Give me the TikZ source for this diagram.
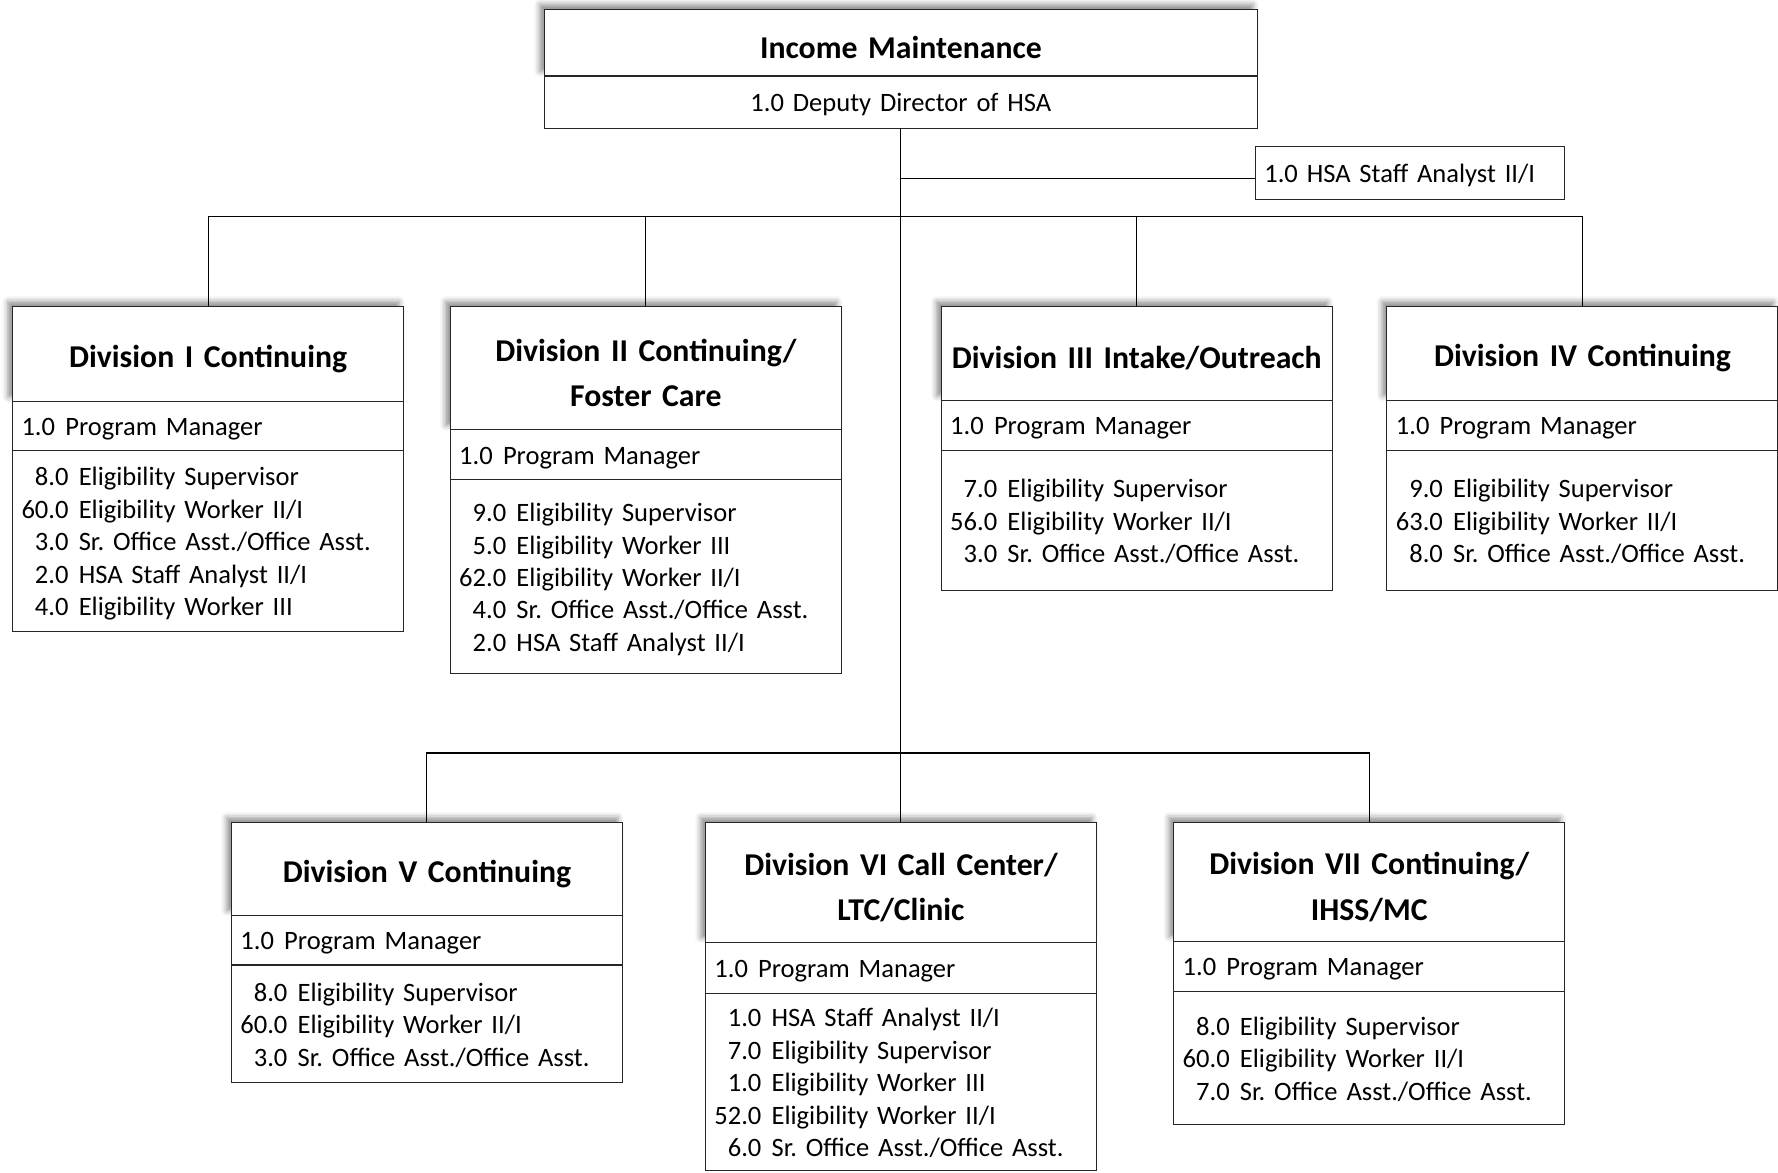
\documentclass[tikz,border=0pt]{standalone}
\usepackage{fontspec}
\setmainfont{Carlito}[WordSpace=0.8]
\usetikzlibrary{positioning,shadows.blur}
\frenchspacing

\begin{document}
\begin{tikzpicture}[x=1pt,y=-1pt,line width=1pt,
  drop/.style={execute at begin node={\rule{0pt}{#1}}},
  box/.style={draw=black!85,fill=white,outer sep=0pt,inner xsep=8pt,inner ysep=0pt,
    text width=329pt,drop=21pt,font=\fontsize{23.4}{28.6}\selectfont},
  head/.style={box,align=center,drop=29pt,font=\fontsize{28}{40}\selectfont\bfseries,
    blur shadow={shadow xshift=-4pt,shadow yshift=4pt,shadow blur radius=5pt,shadow opacity=45}},
  row/.style={box,align=left},
  list/.style={row,drop=26pt}]
  \useasboundingbox (0,0) rectangle (1568,1034);

  % top of the chart
  \node[head,drop=14pt,text width=613pt,minimum height=59pt,anchor=north west] (im) at (480,8)
    {Income Maintenance};
  \node[row,drop=17pt,text width=613pt,align=center,minimum height=46pt,below=0pt of im] (imdir)
    {1.0 Deputy Director of HSA};
  \node[row,drop=21pt,text width=257pt,minimum height=47pt,anchor=north west] (staff) at (1107,129)
    {1.0 HSA Staff Analyst II/I};

  % first row of divisions
  \node[head,minimum height=84pt,anchor=north west] (d1) at (11,270) {Division I Continuing};
  \node[row,minimum height=43pt,below=0pt of d1] (d1pm) {1.0\hspace{9pt}Program Manager};
  \node[list,minimum height=160pt,below=0pt of d1pm] (d1staff)
    {\begin{tabular}[t]{@{}r@{\hspace{9pt}}l@{}}
      8.0 & Eligibility Supervisor\\
      60.0 & Eligibility Worker II/I\\
      3.0 & Sr. Office Asst./Office Asst.\\
      2.0 & HSA Staff Analyst II/I\\
      4.0 & Eligibility Worker III
    \end{tabular}};

  \node[head,drop=18pt,minimum height=109pt,anchor=north west] (d2) at (397,270)
    {Division II Continuing/\\Foster Care};
  \node[row,minimum height=44pt,below=0pt of d2] (d2pm) {1.0\hspace{9pt}Program Manager};
  \node[list,minimum height=171pt,below=0pt of d2pm] (d2staff)
    {\begin{tabular}[t]{@{}r@{\hspace{9pt}}l@{}}
      9.0 & Eligibility Supervisor\\
      5.0 & Eligibility Worker III\\
      62.0 & Eligibility Worker II/I\\
      4.0 & Sr. Office Asst./Office Asst.\\
      2.0 & HSA Staff Analyst II/I
    \end{tabular}};

  \node[head,drop=26pt,minimum height=83pt,anchor=north west] (d3) at (830,270)
    {Division III Intake/Outreach};
  \node[row,minimum height=44pt,below=0pt of d3] (d3pm) {1.0\hspace{9pt}Program Manager};
  \node[list,minimum height=124pt,below=0pt of d3pm] (d3staff)
    {\begin{tabular}[t]{@{}r@{\hspace{9pt}}l@{}}
      7.0 & Eligibility Supervisor\\
      56.0 & Eligibility Worker II/I\\
      3.0 & Sr. Office Asst./Office Asst.
    \end{tabular}};

  \node[head,minimum height=83pt,anchor=north west] (d4) at (1223,270)
    {Division IV Continuing};
  \node[row,minimum height=44pt,below=0pt of d4] (d4pm) {1.0\hspace{9pt}Program Manager};
  \node[list,minimum height=124pt,below=0pt of d4pm] (d4staff)
    {\begin{tabular}[t]{@{}r@{\hspace{9pt}}l@{}}
      9.0 & Eligibility Supervisor\\
      63.0 & Eligibility Worker II/I\\
      8.0 & Sr. Office Asst./Office Asst.
    \end{tabular}};

  % second row of divisions
  \node[head,drop=26pt,minimum height=82pt,anchor=north west] (d5) at (204,725)
    {Division V Continuing};
  \node[row,minimum height=44pt,below=0pt of d5] (d5pm) {1.0\hspace{9pt}Program Manager};
  \node[list,minimum height=104pt,below=0pt of d5pm] (d5staff)
    {\begin{tabular}[t]{@{}r@{\hspace{9pt}}l@{}}
      8.0 & Eligibility Supervisor\\
      60.0 & Eligibility Worker II/I\\
      3.0 & Sr. Office Asst./Office Asst.
    \end{tabular}};

  \node[head,drop=20pt,minimum height=106pt,anchor=north west] (d6) at (622,725)
    {Division VI Call Center/\\LTC/Clinic};
  \node[row,minimum height=45pt,below=0pt of d6] (d6pm) {1.0\hspace{9pt}Program Manager};
  \node[list,minimum height=156pt,below=0pt of d6pm] (d6staff)
    {\begin{tabular}[t]{@{}r@{\hspace{9pt}}l@{}}
      1.0 & HSA Staff Analyst II/I\\
      7.0 & Eligibility Supervisor\\
      1.0 & Eligibility Worker III\\
      52.0 & Eligibility Worker II/I\\
      6.0 & Sr. Office Asst./Office Asst.
    \end{tabular}};

  \node[head,drop=20pt,minimum height=105pt,anchor=north west] (d7) at (1035,725)
    {Division VII Continuing/\\IHSS/MC};
  \node[row,minimum height=44pt,below=0pt of d7] (d7pm) {1.0\hspace{9pt}Program Manager};
  \node[list,minimum height=118pt,below=0pt of d7pm] (d7staff)
    {\begin{tabular}[t]{@{}r@{\hspace{9pt}}l@{}}
      8.0 & Eligibility Supervisor\\
      60.0 & Eligibility Worker II/I\\
      7.0 & Sr. Office Asst./Office Asst.
    \end{tabular}};

  % connectors
  \coordinate (bus) at (794,191);
  \coordinate (lowbus) at (794,664);
  \draw (imdir.south) -- (imdir.south |- d6.north);
  \draw ([yshift=-5pt]staff.west) -- ([yshift=-5pt]staff.west -| imdir.south);
  \draw (d1.north) |- (bus) -| (d4.north);
  \draw (d2.north) -- (d2.north |- bus);
  \draw (d3.north) -- (d3.north |- bus);
  \draw (d5.north) |- (lowbus) -| (d7.north);
\end{tikzpicture}
\end{document}
